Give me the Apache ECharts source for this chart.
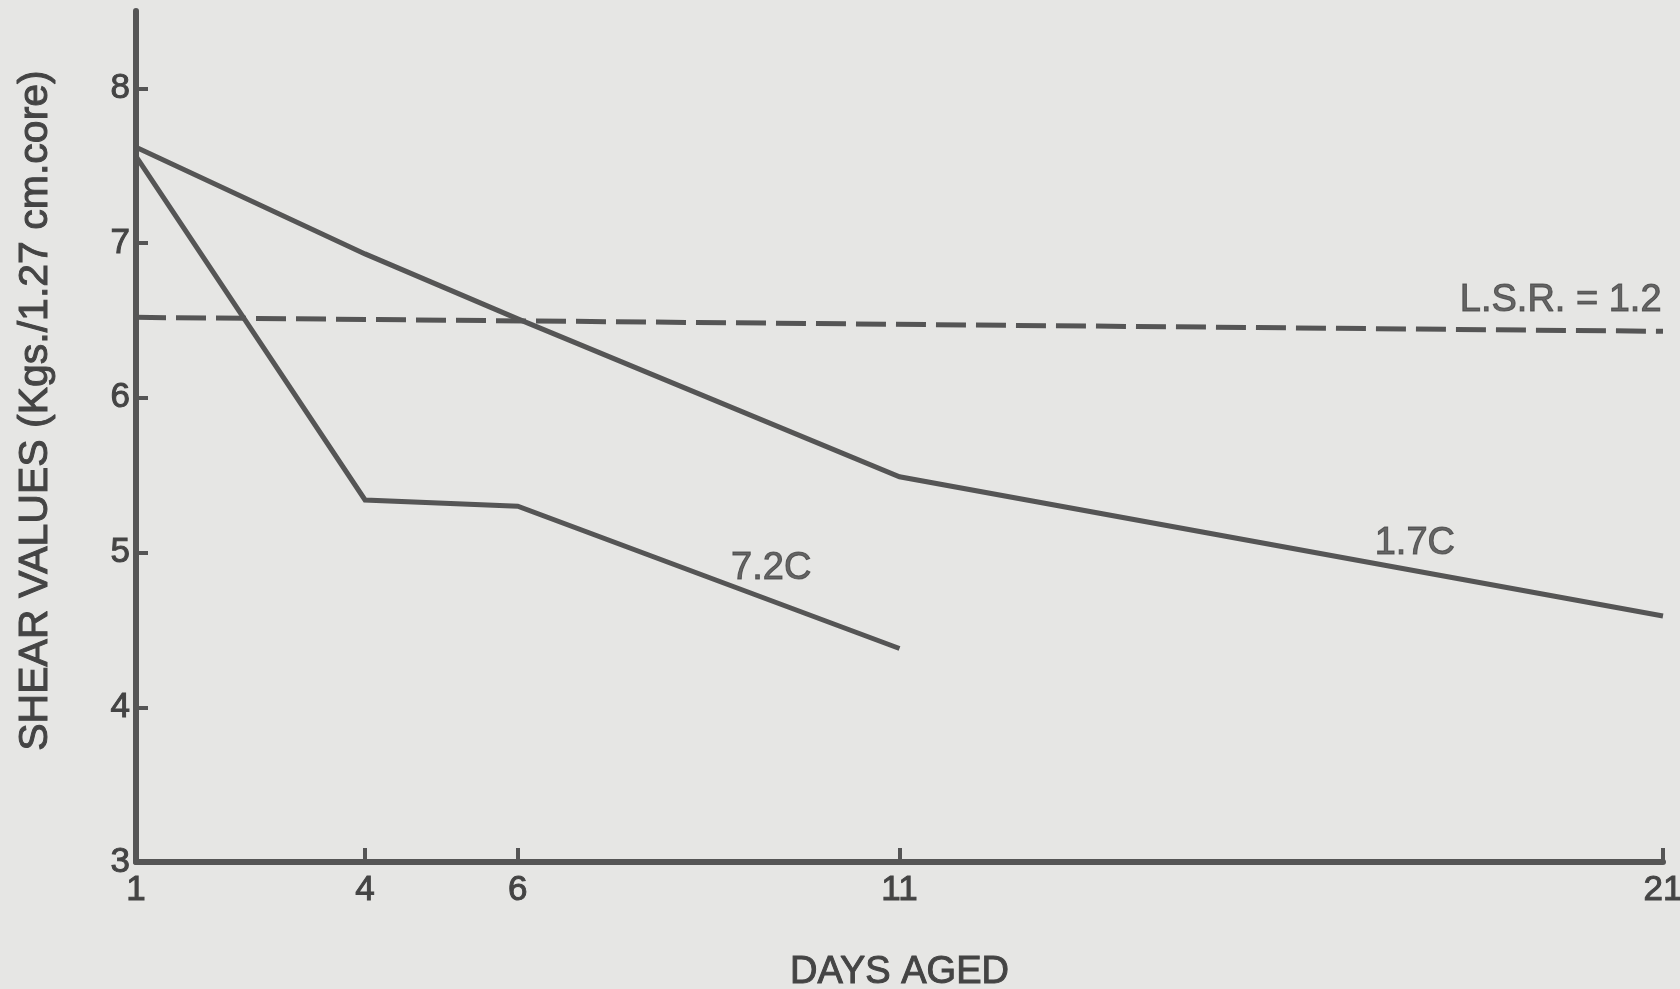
<!DOCTYPE html>
<html>
<head>
<meta charset="utf-8">
<script src="https://cdn.jsdelivr.net/npm/echarts@6/dist/echarts.min.js"></script>
<style>
  html, body { margin: 0; padding: 0; background: #e6e6e4; }
  #chart { width: 1680px; height: 989px; }
</style>
</head>
<body>
<div id="chart"></div>
<script>
// ---- data ----
const days = [1, 4, 6, 11, 21];
const shear17C = [7.62, 6.93, 6.51, 5.49, 4.59];   // 1.7C, days 1..21
const shear72C = [7.56, 5.34, 5.30, 4.38];         // 7.2C, days 1..11
const lsrDays = [1, 21];
const lsrValues = [6.52, 6.43];                    // L.S.R. = 1.2 reference line
const xTicks = [1, 4, 6, 11, 21];
const yTicks = [3, 4, 5, 6, 7, 8];
const annotations = [
  { text: '7.2C', day: 9.32, value: 4.90 },
  { text: '1.7C', day: 17.75, value: 5.06 },
  { text: 'L.S.R. = 1.2', day: 19.66, value: 6.63 }
];

const ink = '#555555';
const textInk = '#444444';
const font = 'Liberation Sans, Arial, Helvetica, sans-serif';
const thick = { textBorderColor: textInk, textBorderWidth: 1 };

const toPairs = (xs, ys) => ys.map((v, i) => [xs[i], v]);

const chart = echarts.init(document.getElementById('chart'), null, { renderer: 'canvas' });
chart.setOption({
  backgroundColor: '#e6e6e4',
  animation: false,
  grid: { left: 136, right: 17, top: 11, bottom: 127, containLabel: false, outerBoundsMode: 'none' },
  xAxis: {
    type: 'value', min: 1, max: 21,
    name: 'DAYS AGED', nameLocation: 'middle', nameGap: 111,
    nameTextStyle: Object.assign({ fontFamily: font, fontSize: 38, color: textInk, verticalAlign: 'middle' }, thick),
    axisLine: { show: true, onZero: false, lineStyle: { color: ink, width: 6 } },
    axisTick: { show: true, inside: true, length: 14, customValues: xTicks, lineStyle: { color: ink, width: 4 } },
    axisLabel: Object.assign({ customValues: xTicks, margin: 11, fontFamily: font, fontSize: 35, color: textInk }, thick),
    splitLine: { show: false }
  },
  yAxis: {
    type: 'value', min: 3, max: 8.5,
    name: 'SHEAR VALUES (Kgs./1.27 cm.core)', nameLocation: 'middle', nameGap: 80,
    nameRotate: 90,
    nameTextStyle: Object.assign({ fontFamily: font, fontSize: 41, color: textInk, padding: [0, 0, 0, 52] }, thick),
    axisLine: { show: true, onZero: false, lineStyle: { color: ink, width: 6 } },
    axisTick: { show: true, inside: true, length: 12, customValues: yTicks, lineStyle: { color: ink, width: 4 } },
    axisLabel: Object.assign({ customValues: yTicks, margin: 6, fontFamily: font, fontSize: 35, color: textInk, padding: [0, 0, 16, 0] }, thick),
    splitLine: { show: false }
  },
  series: [
    {
      name: '1.7C', type: 'line', data: toPairs(days, shear17C),
      symbol: 'none', lineStyle: { color: ink, width: 5, cap: 'butt', join: 'miter' }
    },
    {
      name: '7.2C', type: 'line', data: toPairs(days, shear72C),
      symbol: 'none', lineStyle: { color: ink, width: 5, cap: 'butt', join: 'miter' }
    },
    {
      name: 'L.S.R.', type: 'line', data: toPairs(lsrDays, lsrValues),
      symbol: 'none', lineStyle: { color: ink, width: 5, type: [30, 10], cap: 'butt' }
    },
    {
      name: 'labels', type: 'scatter', symbolSize: 0,
      data: annotations.map(a => ({ value: [a.day, a.value], name: a.text })),
      label: Object.assign({
        show: true, position: 'inside', formatter: p => p.name,
        fontFamily: font, fontSize: 38, color: textInk
      }, thick),
      silent: true
    }
  ]
});
</script>
</body>
</html>
